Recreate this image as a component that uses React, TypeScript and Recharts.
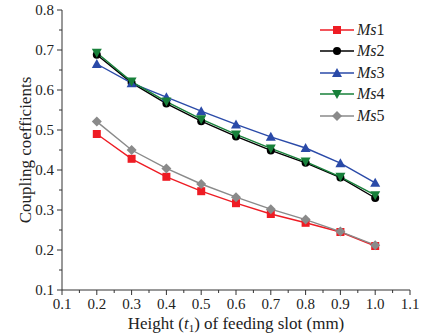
import React from 'react';
import { LineChart, Line, XAxis, YAxis, Legend } from 'recharts';

const heights = [0.2, 0.3, 0.4, 0.5, 0.6, 0.7, 0.8, 0.9, 1.0];
const ms1 = [0.49, 0.428, 0.383, 0.347, 0.317, 0.29, 0.268, 0.245, 0.21];
const ms2 = [0.688, 0.618, 0.566, 0.522, 0.484, 0.449, 0.418, 0.381, 0.33];
const ms3 = [0.665, 0.617, 0.582, 0.547, 0.514, 0.483, 0.455, 0.417, 0.368];
const ms4 = [0.693, 0.621, 0.571, 0.527, 0.489, 0.454, 0.421, 0.383, 0.337];
const ms5 = [0.521, 0.45, 0.404, 0.365, 0.332, 0.302, 0.276, 0.246, 0.212];

const xTicks = [0.1, 0.15, 0.2, 0.25, 0.3, 0.35, 0.4, 0.45, 0.5, 0.55, 0.6, 0.65, 0.7, 0.75, 0.8, 0.85, 0.9, 0.95, 1.0, 1.05, 1.1];
const yTicks = [0.1, 0.15, 0.2, 0.25, 0.3, 0.35, 0.4, 0.45, 0.5, 0.55, 0.6, 0.65, 0.7, 0.75, 0.8];

const series = [
  { key: 'ms1', label: '1', color: '#ee1c24', shape: 'square', values: ms1 },
  { key: 'ms2', label: '2', color: '#000000', shape: 'circle', values: ms2 },
  { key: 'ms3', label: '3', color: '#2a4aa8', shape: 'triangle', values: ms3 },
  { key: 'ms4', label: '4', color: '#17803a', shape: 'down', values: ms4 },
  { key: 'ms5', label: '5', color: '#8a8a8a', shape: 'diamond', values: ms5 },
];

const data = heights.map((h, i) => {
  const row: Record<string, number> = { h };
  series.forEach((s) => (row[s.key] = s.values[i]));
  return row;
});

const FONT = '"Liberation Serif", "Times New Roman", serif';
const isMajor = (v: number) => Math.abs(Math.round(v * 10) - v * 10) < 1e-6;

const Marker = ({ shape, cx, cy, color }: { shape: string; cx: number; cy: number; color: string }) => {
  switch (shape) {
    case 'square':
      return <rect x={cx - 4} y={cy - 4} width={8} height={8} fill={color} />;
    case 'circle':
      return <circle cx={cx} cy={cy} r={4} fill={color} />;
    case 'triangle':
      return <polygon points={`${cx},${cy - 5} ${cx + 5},${cy + 4} ${cx - 5},${cy + 4}`} fill={color} />;
    case 'down':
      return <polygon points={`${cx},${cy + 5} ${cx + 5},${cy - 4} ${cx - 5},${cy - 4}`} fill={color} />;
    default:
      return <polygon points={`${cx},${cy - 5} ${cx + 5},${cy} ${cx},${cy + 5} ${cx - 5},${cy}`} fill={color} />;
  }
};

const XTick = (props: any) => {
  const { x, y, payload } = props;
  const axisY = y - 8;
  const major = isMajor(payload.value);
  return (
    <g>
      <line x1={x} x2={x} y1={axisY} y2={axisY + (major ? 5 : 3)} stroke="#333" />
      {major && (
        <text x={x} y={y} dy="0.71em" textAnchor="middle" fontSize={15} fill="#222" fontFamily={FONT}>
          {payload.value.toFixed(1)}
        </text>
      )}
    </g>
  );
};

const YTick = (props: any) => {
  const { x, y, payload } = props;
  const axisX = x + 8;
  const major = isMajor(payload.value);
  return (
    <g>
      <line x1={axisX - (major ? 5 : 3)} x2={axisX} y1={y} y2={y} stroke="#333" />
      {major && (
        <text x={x} y={y} dy="0.355em" textAnchor="end" fontSize={15} fill="#222" fontFamily={FONT}>
          {payload.value.toFixed(1)}
        </text>
      )}
    </g>
  );
};

const XLabel = (props: any) => {
  const { viewBox } = props;
  const cx = viewBox.x + viewBox.width / 2;
  return (
    <text x={cx} y={viewBox.y + 39} textAnchor="middle" fontSize={17} fill="#222" fontFamily={FONT}>
      Height (<tspan fontStyle="italic">t</tspan>
      <tspan fontSize={11} dy={3}>1</tspan>
      <tspan dy={-3}>) of feeding slot (mm)</tspan>
    </text>
  );
};

const YLabel = (props: any) => {
  const { viewBox } = props;
  const cy = viewBox.y + viewBox.height / 2;
  return (
    <text x={25} y={cy} transform={`rotate(-90, 25, ${cy})`} textAnchor="middle" dy="0.35em" fontSize={17} fill="#222" fontFamily={FONT}>
      Coupling coefficients
    </text>
  );
};

const renderLegend = () => (
  <div style={{ fontFamily: FONT }}>
    {series.map((s) => (
      <div key={s.key} style={{ display: 'flex', alignItems: 'center', height: 21.5 }}>
        <svg width={36} height={14}>
          <line x1={1} x2={35} y1={7} y2={7} stroke={s.color} strokeWidth={1.4} />
          <Marker shape={s.shape} cx={18} cy={7} color={s.color} />
        </svg>
        <span style={{ fontSize: 16, color: '#222', marginLeft: 2 }}>
          <i>Ms</i>
          {s.label}
        </span>
      </div>
    ))}
  </div>
);

export default function App() {
  return (
    <div style={{ position: 'absolute', left: 0, top: 0, width: 422, height: 336, background: '#fff' }}>
      <LineChart width={422} height={336} data={data} margin={{ top: 10, right: 12, left: 0, bottom: 0 }}>
        <XAxis
          dataKey="h"
          type="number"
          domain={[0.1, 1.1]}
          ticks={xTicks}
          interval={0}
          height={46}
          tickSize={5}
          tickMargin={3}
          tickLine={false}
          tick={<XTick />}
          axisLine={{ stroke: '#333' }}
          label={<XLabel />}
        />
        <XAxis xAxisId="top" orientation="top" dataKey="h" type="number" domain={[0.1, 1.1]} tick={false} tickLine={false} height={0} axisLine={{ stroke: '#333' }} />
        <YAxis
          type="number"
          domain={[0.1, 0.8]}
          ticks={yTicks}
          interval={0}
          width={62}
          tickSize={5}
          tickMargin={3}
          tickLine={false}
          tick={<YTick />}
          axisLine={{ stroke: '#333' }}
          label={<YLabel />}
        />
        <YAxis yAxisId="right" orientation="right" domain={[0.1, 0.8]} tick={false} tickLine={false} width={0} axisLine={{ stroke: '#333' }} />
        <Legend
          layout="vertical"
          align="center"
          verticalAlign="middle"
          content={renderLegend}
          wrapperStyle={{ position: 'absolute', left: 319, top: 19, width: 90, height: 110 }}
        />
        {series.map((s) => (
          <Line
            key={s.key}
            dataKey={s.key}
            stroke={s.color}
            strokeWidth={1.4}
            isAnimationActive={false}
            dot={(p: any) => <Marker key={`${s.key}-${p.index}`} shape={s.shape} cx={p.cx} cy={p.cy} color={s.color} />}
            activeDot={false}
          />
        ))}
      </LineChart>
    </div>
  );
}
